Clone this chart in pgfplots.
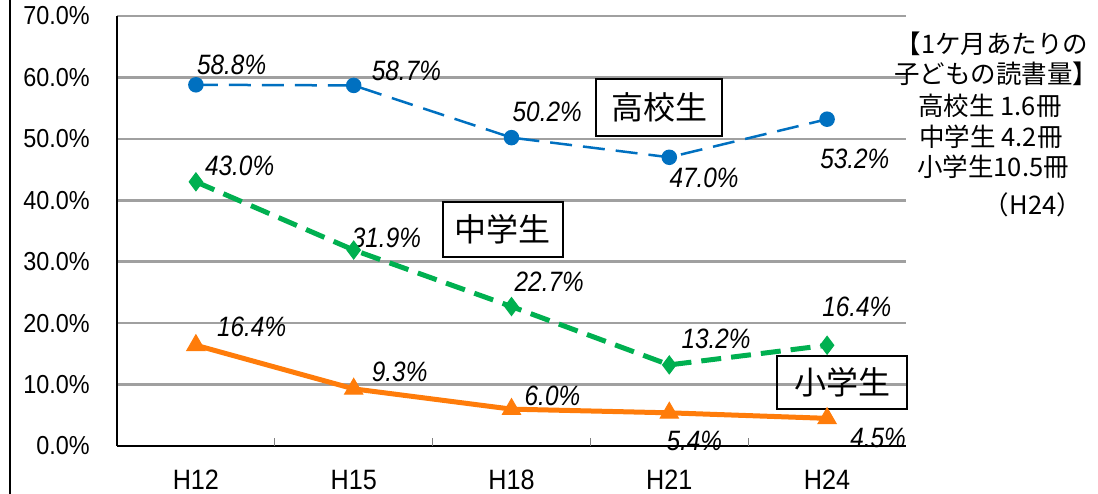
\documentclass[border=0pt]{standalone}
\usepackage{pgfplots}
\pgfplotsset{compat=1.18}
\usepackage{fontspec}
\setmainfont{Liberation Sans}
\newfontfamily\tickfont[FakeStretch=0.9]{Liberation Sans}
\newfontfamily\labfont[FakeStretch=0.87]{Liberation Sans}
\newfontfamily\cjk{Noto Sans CJK JP}
\definecolor{cblue}{HTML}{0070C0}
\definecolor{cgreen}{HTML}{00B050}
\definecolor{corange}{HTML}{FF7C0A}
\definecolor{cgrid}{RGB}{160,160,160}
\newcommand{\lab}[1]{\fontsize{28}{30}\selectfont\labfont\itshape #1}
\begin{document}
\begin{tikzpicture}[x=1pt,y=1pt]
\useasboundingbox (0,0) rectangle (1098,494);
\draw[line width=2.5pt] (10,0) -- (10,494);
\begin{axis}[
  at={(117pt,48pt)}, anchor=south west,
  scale only axis, width=789pt, height=430pt,
  xmin=-0.5, xmax=4.5, ymin=0, ymax=70,
  axis x line*=bottom, axis y line*=left,
  axis line style={-, black, line width=1.2pt},
  xtick={0,1,2,3,4},
  xticklabels={H12,H15,H18,H21,H24},
  x tick label style={font=\fontsize{28}{30}\selectfont\tickfont, inner sep=0pt, anchor=north, yshift=-24pt},
  x tick style={draw=none},
  extra x ticks={0.5,1.5,2.5,3.5},
  extra x tick labels={},
  extra x tick style={major tick length=8pt, tick align=inside, grid=none, x tick style={draw=gray, line width=0.8pt}},
  ytick={0,10,...,70},
  yticklabel={\pgfmathprintnumber[fixed,fixed zerofill,precision=1]{\tick}\%},
  /pgf/number format/assume math mode=true,
  y tick label style={font=\fontsize{26}{28}\selectfont\tickfont, inner sep=0pt, anchor=east, xshift=-27pt},
  y tick style={draw=none},
  ymajorgrids,
  major grid style={cgrid, line width=2.5pt},
  clip=false,
]
\addplot[cblue, line width=2.5pt, dash pattern=on 22pt off 11pt, mark=*, mark size=6.5pt, mark options={solid}]
  coordinates {(0,58.8) (1,58.7) (2,50.2) (3,47.0) (4,53.2)};
\addplot[cgreen, line width=5pt, dash pattern=on 20pt off 10pt, mark=diamond*, mark size=9pt, mark options={solid, line width=1pt}]
  coordinates {(0,43.0) (1,31.9) (2,22.7) (3,13.2) (4,16.4)};
\addplot[corange, line width=5pt, mark=triangle*, mark size=10.5pt, mark options={solid, line width=1pt}]
  coordinates {(0,16.4) (1,9.3) (2,6.0) (3,5.4) (4,4.5)};

% blue labels
\node[anchor=base west, inner sep=0pt, xshift=1pt, yshift=10pt] at (axis cs:0,58.8) {\lab{58.8\%}};
\node[anchor=base west, inner sep=0pt, xshift=18pt, yshift=5pt] at (axis cs:1,58.7) {\lab{58.7\%}};
\node[anchor=base west, inner sep=0pt, xshift=1pt, yshift=16pt] at (axis cs:2,50.2) {\lab{50.2\%}};
\node[anchor=base west, inner sep=0pt, xshift=0pt, yshift=-30pt] at (axis cs:3,47.0) {\lab{47.0\%}};
\node[anchor=base west, inner sep=0pt, xshift=-7pt, yshift=-49pt] at (axis cs:4,53.2) {\lab{53.2\%}};
% green labels
\node[anchor=base west, inner sep=0pt, xshift=9pt, yshift=6pt] at (axis cs:0,43.0) {\lab{43.0\%}};
\node[anchor=base west, inner sep=0pt, xshift=-2pt, yshift=3pt] at (axis cs:1,31.9) {\lab{31.9\%}};
\node[anchor=base west, inner sep=0pt, xshift=3pt, yshift=15pt] at (axis cs:2,22.7) {\lab{22.7\%}};
\node[anchor=base west, inner sep=0pt, xshift=12pt, yshift=16pt] at (axis cs:3,13.2) {\lab{13.2\%}};
\node[anchor=base west, inner sep=0pt, xshift=-5pt, yshift=29pt] at (axis cs:4,16.4) {\lab{16.4\%}};
% orange labels
\node[anchor=base west, inner sep=0pt, xshift=21pt, yshift=9pt] at (axis cs:0,16.4) {\lab{16.4\%}};
\node[anchor=base west, inner sep=0pt, xshift=18pt, yshift=7pt] at (axis cs:1,9.3) {\lab{9.3\%}};
\node[anchor=base west, inner sep=0pt, xshift=13pt, yshift=4pt] at (axis cs:2,6.0) {\lab{6.0\%}};
\node[anchor=base west, inner sep=0pt, xshift=-3pt, yshift=-38pt] at (axis cs:3,5.4) {\lab{5.4\%}};
\node[anchor=base west, inner sep=0pt, xshift=23pt, yshift=-29pt] at (axis cs:4,4.5) {\lab{4.5\%}};

% boxed series names
\node[draw=black, line width=1.8pt, minimum width=126pt, minimum height=57pt, inner sep=0pt, font=\cjk\fontsize{32}{34}\selectfont] at (axis cs:2.935,55.1) {高校生};
\node[draw=black, line width=1.8pt, minimum width=120pt, minimum height=55pt, inner sep=0pt, font=\cjk\fontsize{32}{34}\selectfont] at (axis cs:1.946,35.2) {中学生};
\node[draw=black, line width=1.8pt, minimum width=130pt, minimum height=53pt, inner sep=0pt, font=\cjk\fontsize{32}{34}\selectfont] at (axis cs:4.095,10.3) {小学生};
\end{axis}
% right annotation
\begin{scope}[every node/.style={inner sep=0pt, font=\cjk\fontsize{25.5}{28}\selectfont}]
\node at (992,450) {【1ケ月あたりの};
\node at (996,420) {子どもの読書量】};
\node at (990,388) {高校生 1.6冊};
\node at (991,357) {中学生 4.2冊};
\node at (993,327) {小学生10.5冊};
\node[anchor=east] at (1082,289) {（H24）};
\end{scope}
\end{tikzpicture}
\end{document}
